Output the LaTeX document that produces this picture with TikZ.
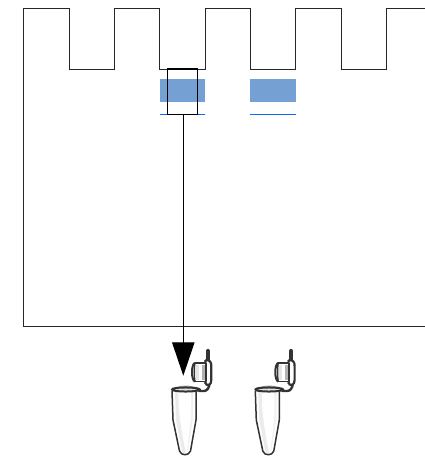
\documentclass[tikz,border=0pt]{standalone}
\usetikzlibrary{arrows.meta}
\definecolor{band}{HTML}{74A0D3}
\definecolor{bandline}{HTML}{0A6CF5}
\definecolor{tubeline}{HTML}{333333}
\tikzset{
  gel/.style={draw=black!85,line width=1pt,line join=miter},
  bandbox/.style={fill=band,draw=none},
  bandrule/.style={draw=bandline,line width=1.1pt},
  wellbox/.style={draw=black,line width=1.3pt,fill=none,inner sep=0pt,minimum width=30.4pt,minimum height=45.3pt},
  pickline/.style={draw=black,line width=1.1pt,-{Triangle[length=33.4pt,width=22.4pt]}},
  tubestroke/.style={draw=tubeline,line width=1.5pt,line join=round},
  tube/.pic={
    % body
    \path[fill=white] (172,390) -- (173,420) -- (179.5,451) .. controls (181,456) and (189,456) .. (190.5,451) -- (196,420) -- (196,390) -- cycle;
    \path[fill=black!8] (175,392) -- (176,420) -- (182,451) .. controls (183,453) and (185,454) .. (186,454) .. controls (181,430) and (178,410) .. (178.5,393) -- cycle;
    \path[fill=black!5] (191,392) -- (193.5,392) -- (193,420) -- (188,450) -- (187,450) .. controls (190,430) and (192,410) .. (191,392) -- cycle;
    \draw[tubestroke] (172,391) -- (173,420) -- (179.5,451) .. controls (181,456) and (189,456) .. (190.5,451) -- (196,420) -- (196,391);
    % rim
    \path[fill=black!35] (177,387) .. controls (182,385) and (190,385) .. (195,387) -- cycle;
    \draw[tubestroke,line width=2pt,fill=black!12] (172,389.5) .. controls (172,386.8) and (199,386.8) .. (200,389.5) .. controls (199,392.2) and (172,392.2) .. (172,389.5) -- cycle;
    % hinge and strap
    \draw[tubestroke,line width=2.4pt,line cap=round] (199,391) -- (204,391) .. controls (207,391) and (209,388) .. (209.5,384);
    \draw[tubestroke,line width=4.2pt,line cap=round] (207.8,351) -- (207.8,361);
    \draw[tubestroke,line width=2.2pt,fill=white] (205.5,360) .. controls (210,360) and (211.3,362) .. (211.3,366) -- (211.3,380) .. controls (211.3,385) and (208,386) .. (205.5,384);
    % cap
    \path[fill=white] (194,363) -- (206,363) -- (206,381.5) -- (194,381.5) -- cycle;
    \path[fill=black!30] (202,365) -- (206,365) -- (206,380) -- (202,380) -- cycle;
    \path[fill=black!10] (196,365) -- (198.5,365) -- (198.5,380) -- (196,380) -- cycle;
    \draw[tubestroke,line width=1.7pt] (195,362.8) -- (206,362.8) -- (206,381.6) -- (195,381.6);
    \draw[tubestroke,line width=2pt] (195,362.8) .. controls (191,364) and (191,380.5) .. (195,381.6);
    \draw[tubestroke] (195,362.8) .. controls (194,366) and (194,378) .. (195,381.6);
    \path[fill=tubeline] (205.5,361) circle (1.6pt) (205.5,383) circle (1.6pt);
  }
}
\begin{document}
\begin{tikzpicture}[x=1pt,y=-1pt]
\useasboundingbox (0,0) rectangle (425,463);
\fill[white] (0,0) rectangle (425,463);
\draw[gel] (425,326) -- (23.5,326) -- (23.5,8.8) -- (69.5,8.8) -- (69.5,69) -- (114.7,69) -- (114.7,8.8) -- (159.8,8.8) -- (159.8,69) -- (205,69) -- (205,8.8) -- (250.3,8.8) -- (250.3,69) -- (295.8,69) -- (295.8,8.8) -- (341,8.8) -- (341,69) -- (386.7,69) -- (386.7,8.8) -- (425,8.8);
\fill[bandbox] (159.8,79) rectangle (205,101.7);
\fill[bandbox] (250.3,79) rectangle (295.8,101.7);
\draw[bandrule] (159.8,114.4) -- (205,114.4);
\draw[bandrule] (250.3,114.4) -- (295.8,114.4);
\pic at (0,0) {tube};
\pic at (83.3,0) {tube};
\node[wellbox] (well) at (182.5,91.7) {};
\coordinate (tip) at (183.3,375.7);
\draw[pickline] (well.south -| tip) -- (tip);
\end{tikzpicture}
\end{document}
